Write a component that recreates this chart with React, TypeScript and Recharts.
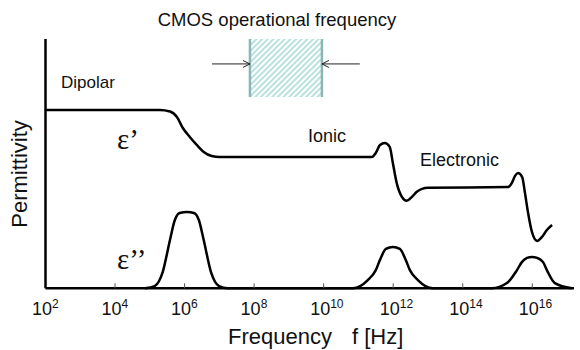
import React from 'react'
import { LineChart, Line, XAxis, YAxis, ReferenceArea, ReferenceLine } from 'recharts'

// x = log10(frequency / Hz), y = permittivity in arbitrary units
const DECADES = [2, 4, 6, 8, 10, 12, 14, 16]

const REAL_LOGF = [2.0, 5.29, 5.58, 5.78, 5.95, 6.15, 6.35, 6.55, 6.78, 7.01, 11.39, 11.5, 11.62, 11.76, 11.9, 11.99, 12.1, 12.25, 12.39, 12.54, 12.68, 12.83, 13.0, 15.3, 15.41, 15.5, 15.59, 15.71, 15.79, 15.88, 15.99, 16.14, 16.28, 16.42, 16.57]
const REAL_EPS = [71.5, 71.5, 70.9, 68.7, 64.3, 60.7, 57.5, 54.7, 53.1, 52.7, 52.7, 54.3, 57.5, 58.3, 56.7, 50.3, 42.3, 36.7, 35.1, 36.7, 38.7, 39.9, 40.3, 40.6, 42.2, 45.0, 46.2, 44.6, 38.2, 30.2, 22.6, 19.0, 20.6, 23.4, 25.4]

const IMAG_LOGF = [4.86, 5.14, 5.37, 5.58, 5.72, 5.86, 6.07, 6.27, 6.41, 6.55, 6.76, 6.99, 7.24, 10.84, 11.27, 11.5, 11.62, 11.79, 11.99, 12.19, 12.36, 12.48, 12.71, 13.14, 14.84, 15.27, 15.56, 15.7, 15.85, 15.99, 16.14, 16.31, 16.42, 16.65, 17.14]
const IMAG_EPS = [0, 0.9, 6.5, 19.4, 27.4, 30.2, 30.6, 30.2, 27.4, 19.4, 6.5, 0.9, 0, 0, 3.3, 7.3, 11.4, 15.8, 16.6, 15.8, 11.4, 7.3, 3.3, 0, 0, 2.1, 7.3, 10.5, 12.2, 12.6, 12.2, 10.5, 7.3, 2.1, 0]

// CMOS operating band (log10 f) and the arrows pointing at it
const CMOS_BAND = [7.88, 9.95]
const CMOS_BOX_Y = [76.7, 100]
const ARROW_Y = 90
const ARROW_FROM = [6.79, 11.04]

const epsReal = REAL_LOGF.map((x, i) => ({ x, y: REAL_EPS[i] }))
const epsImag = IMAG_LOGF.map((x, i) => ({ x, y: IMAG_EPS[i] }))

const SANS = '"Liberation Sans", Arial, Helvetica, sans-serif'
const SERIF = '"Liberation Serif", "Times New Roman", serif'

const AXIS_Y = 288.3

const DecadeTick = ({ x, payload }: any) => (
  <text x={x - 13.5} y={AXIS_Y + 26.7} fontFamily={SANS} fontSize={18} fill="#111" textAnchor="start">
    <tspan>10</tspan>
    <tspan dy={-7.5} fontSize={12}>{payload.value}</tspan>
  </text>
)

const Arrow = (p: any) => {
  const { x1, y1, x2, y2 } = p
  const dir = Math.sign(x2 - x1)
  return (
    <g>
      <line x1={x1} y1={y1} x2={x2} y2={y2} stroke="#222" strokeWidth={1} />
      <polyline
        points={`${x2 - dir * 7},${y2 - 3.5} ${x2},${y2} ${x2 - dir * 7},${y2 + 3.5}`}
        fill="none"
        stroke="#222"
        strokeWidth={1}
      />
    </g>
  )
}

export default function App() {
  return (
    <div style={{ position: 'absolute', left: 0, top: 0, width: 580, height: 350, background: '#fff' }}>
      <LineChart width={580} height={350} margin={{ top: 39, right: 6, bottom: 61.7, left: 15.5 }}>
        <defs>
          <pattern id="cmosHatch" width="4" height="4" patternUnits="userSpaceOnUse" patternTransform="rotate(45)">
            <rect width="4" height="4" fill="#ffffff" />
            <rect width="2" height="4" fill="#b9e1de" />
          </pattern>
        </defs>
        <XAxis
          type="number"
          dataKey="x"
          domain={[2, 17.2]}
          ticks={DECADES}
          height={30}
          mirror
          tickSize={5}
          tickLine={{ stroke: '#555', strokeWidth: 1 }}
          axisLine={{ stroke: '#000', strokeWidth: 2.5 }}
          tick={<DecadeTick />}
        />
        <YAxis
          type="number"
          domain={[0, 100]}
          width={30}
          tick={false}
          tickLine={false}
          axisLine={{ stroke: '#000', strokeWidth: 2.5 }}
        />
        <ReferenceArea
          x1={CMOS_BAND[0]}
          x2={CMOS_BAND[1]}
          y1={CMOS_BOX_Y[0]}
          y2={CMOS_BOX_Y[1]}
          fill="url(#cmosHatch)"
          fillOpacity={1}
          stroke="none"
        />
        {CMOS_BAND.map((b) => (
          <ReferenceLine
            key={b}
            segment={[{ x: b, y: CMOS_BOX_Y[0] }, { x: b, y: CMOS_BOX_Y[1] }]}
            stroke="#8cb6b5"
            strokeWidth={2.5}
          />
        ))}
        {ARROW_FROM.map((from, i) => (
          <ReferenceLine
            key={from}
            segment={[{ x: from, y: ARROW_Y }, { x: CMOS_BAND[i], y: ARROW_Y }]}
            shape={<Arrow />}
          />
        ))}
        <Line data={epsReal} dataKey="y" type="monotone" stroke="#000" strokeWidth={2.5} dot={false} isAnimationActive={false} />
        <Line data={epsImag} dataKey="y" type="monotone" stroke="#000" strokeWidth={2.5} dot={false} isAnimationActive={false} />

        <text x={277} y={26} textAnchor="middle" fontFamily={SANS} fontSize={18.5} fill="#111">CMOS operational frequency</text>
        <text x={61} y={88} fontFamily={SANS} fontSize={17} fill="#111">Dipolar</text>
        <text x={308} y={141.5} fontFamily={SANS} fontSize={18} fill="#111">Ionic</text>
        <text x={420} y={165.5} fontFamily={SANS} fontSize={18} fill="#111">Electronic</text>
        <text x={117} y={148.5} fontFamily={SERIF} fontSize={29} fill="#111">ε’</text>
        <text x={117} y={268.5} fontFamily={SERIF} fontSize={29} fill="#111">ε’’</text>
        <text x={27} y={174} transform="rotate(-90 27 174)" textAnchor="middle" fontFamily={SANS} fontSize={22} fill="#111">Permittivity</text>
        <text x={228} y={344} fontFamily={SANS} fontSize={22} fill="#111">Frequency</text>
        <text x={352} y={344} fontFamily={SANS} fontSize={22} fill="#111">f [Hz]</text>
      </LineChart>
    </div>
  )
}
